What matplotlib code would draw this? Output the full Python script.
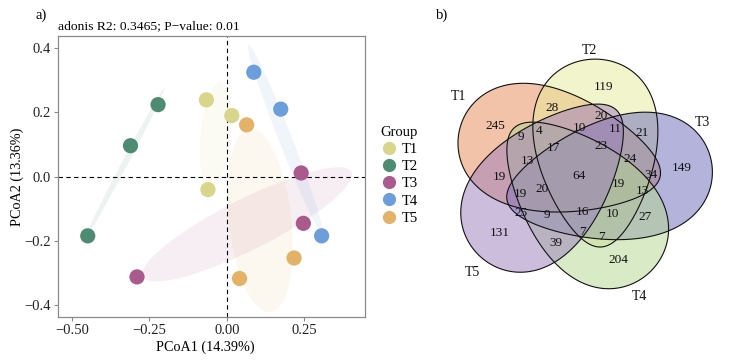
import matplotlib
matplotlib.use('Agg')
import matplotlib.pyplot as plt
from matplotlib.patches import Ellipse, Polygon
from matplotlib.lines import Line2D
import numpy as np

plt.rcParams['font.family'] = ['Liberation Serif', 'DejaVu Serif']

# ---- PCoA data ----
groups = ['T1', 'T2', 'T3', 'T4', 'T5']
group_colors = ['#D8D68A', '#4D8C73', '#AA5A8C', '#6B9EDA', '#E3B267']

t1_pc1 = [-0.066, 0.016, -0.061]
t1_pc2 = [0.239, 0.190, -0.041]
t2_pc1 = [-0.222, -0.311, -0.449]
t2_pc2 = [0.224, 0.096, -0.185]
t3_pc1 = [0.240, 0.247, -0.290]
t3_pc2 = [0.011, -0.146, -0.313]
t4_pc1 = [0.087, 0.174, 0.306]
t4_pc2 = [0.325, 0.210, -0.185]
t5_pc1 = [0.064, 0.217, 0.041]
t5_pc2 = [0.161, -0.254, -0.318]

pc1_all = [t1_pc1, t2_pc1, t3_pc1, t4_pc1, t5_pc1]
pc2_all = [t1_pc2, t2_pc2, t3_pc2, t4_pc2, t5_pc2]

x_ticks = [-0.50, -0.25, 0.00, 0.25]
y_ticks = [-0.4, -0.2, 0.0, 0.2, 0.4]

# ---- Venn data ----
venn_names = ['T1', 'T2', 'T3', 'T4', 'T5']
venn_colors = ['#E78955', '#E7EB9B', '#6969B9', '#B5D791', '#9B7DBD']
# counts in reading order, top to bottom
venn_counts = [119, 28, 20, 245, 10, 11, 21, 4, 9, 23, 17, 24, 13, 149,
               64, 34, 19, 19, 13, 19, 20, 25, 9, 16, 10, 27, 131, 7, 7, 39, 204]

# layout (pixels of the right panel): egg shaped sets
venn_shapes = [  # centre x, centre y, half length, half width, angle to the narrow tip
    (559.8, 153.3, 103, 60, 13.3),
    (596.5, 153.1, 94, 60, 87.3),
    (609.2, 180.7, 104, 60, 169.2),
    (581.8, 200.2, 99, 60, 226.8),
    (548.0, 183.0, 100, 60, 313.0),
]
venn_count_xy = [(604, 87), (552, 108), (601, 116), (495, 126), (579, 128),
                 (615, 129), (642, 133), (539, 131), (521, 137), (601, 146),
                 (553, 148), (630, 159), (527, 161), (682, 168), (579, 176),
                 (651, 175), (499, 177), (618, 184), (642, 191), (520, 194),
                 (542, 189), (521, 213), (547, 215), (582, 212), (612, 214),
                 (645, 217), (500, 233), (582, 232), (601, 237), (556, 243),
                 (618, 260)]
venn_name_xy = [(458, 97), (590, 50), (702, 122), (639, 297), (472, 272)]


def egg(cx, cy, a, b, ang, k=0.3, n=300):
    t = np.linspace(0, 2*np.pi, n)
    u = a*np.cos(t)
    v = b*np.sin(t)*(1 - k*np.cos(t))
    th = np.radians(ang)
    x = cx + u*np.cos(th) - v*np.sin(th)
    y = cy + u*np.sin(th) + v*np.cos(th)
    return np.column_stack([x, y])


fig = plt.figure(figsize=(7.32, 3.6), dpi=100)

# ---------------- a) PCoA ----------------
ax = fig.add_axes([58/732, 43/360, 307/732, 281/360])
for pc1, pc2, col in zip(pc1_all, pc2_all, group_colors):
    pts = np.column_stack([pc1, pc2])
    mu = pts.mean(axis=0)
    cov = np.cov(pts, rowvar=False)
    vals, vecs = np.linalg.eigh(cov)
    ang = np.degrees(np.arctan2(vecs[1, 1], vecs[0, 1]))
    r = 1.1
    ax.add_patch(Ellipse(mu, 2*r*np.sqrt(vals[1]), 2*r*np.sqrt(max(vals[0], 1e-6)),
                         angle=ang, facecolor=col, alpha=0.1, edgecolor='none', zorder=1))

ax.axvline(0, color='black', ls=(0, (4, 3)), lw=0.8, zorder=2)
ax.axhline(0, color='black', ls=(0, (4, 3)), lw=0.8, zorder=2)

for g, pc1, pc2, col in zip(groups, pc1_all, pc2_all, group_colors):
    ax.scatter(pc1, pc2, s=120, color=col, edgecolors='none', zorder=3)

ax.set_xlim(-0.545, 0.446)
ax.set_ylim(-0.438, 0.438)
ax.set_xticks(x_ticks)
ax.set_xticklabels([('%.2f' % v).replace('-', '\u2212') for v in x_ticks])
ax.set_yticks(y_ticks)
ax.set_yticklabels([('%.1f' % v).replace('-', '\u2212') for v in y_ticks])
for sp in ax.spines.values():
    sp.set_color('#8a8a8a')
    sp.set_linewidth(0.9)
ax.tick_params(direction='out', length=3, width=0.8, color='#8a8a8a',
               labelsize=10.5, labelcolor='#222222', pad=2)
ax.set_xlabel('PCoA1 (14.39%)', fontsize=10.2)
ax.set_ylabel('PCoA2 (13.36%)', fontsize=10.2)
ax.xaxis.set_label_coords(0.48, -0.085)
ax.yaxis.set_label_coords(-0.11, 0.5)
ax.set_title('adonis R2: 0.3465; P\u2212value: 0.01', loc='left', fontsize=9.7, pad=5)

handles = [Line2D([], [], ls='none', marker='o', markersize=9.5, color=c, markeredgewidth=0)
           for c in group_colors]
leg = ax.legend(handles, groups, title='Group', loc='upper left',
                bbox_to_anchor=(380/732, 1 - 126/360), bbox_transform=fig.transFigure,
                frameon=False, fontsize=10.5, title_fontsize=10.5, labelspacing=0.27,
                handletextpad=0.3, handlelength=1.2, borderpad=0, borderaxespad=0,
                alignment='left')

fig.text(35/732, 1 - 15/360, 'a)', fontsize=10.5, va='center', ha='left')
fig.text(436/732, 1 - 15/360, 'b)', fontsize=10.5, va='center', ha='left')

# ---------------- b) Venn ----------------
vx = fig.add_axes([440/732, 0, 292/732, 1])
vx.set_xlim(440, 732)
vx.set_ylim(360, 0)
vx.axis('off')
for shp, col in zip(venn_shapes, venn_colors):
    vx.add_patch(Polygon(egg(*shp), closed=True, facecolor=col, alpha=0.5,
                         edgecolor='none'))
for shp in venn_shapes:
    vx.add_patch(Polygon(egg(*shp), closed=True, facecolor='none',
                         edgecolor='#111111', lw=0.8))
for n, (x, y) in zip(venn_counts, venn_count_xy):
    vx.text(x, y, str(n), ha='center', va='center', fontsize=9.5, color='#111111')
for name, (x, y) in zip(venn_names, venn_name_xy):
    vx.text(x, y, name, ha='center', va='center', fontsize=10, color='#111111')

fig.savefig('out.png', dpi=100)
